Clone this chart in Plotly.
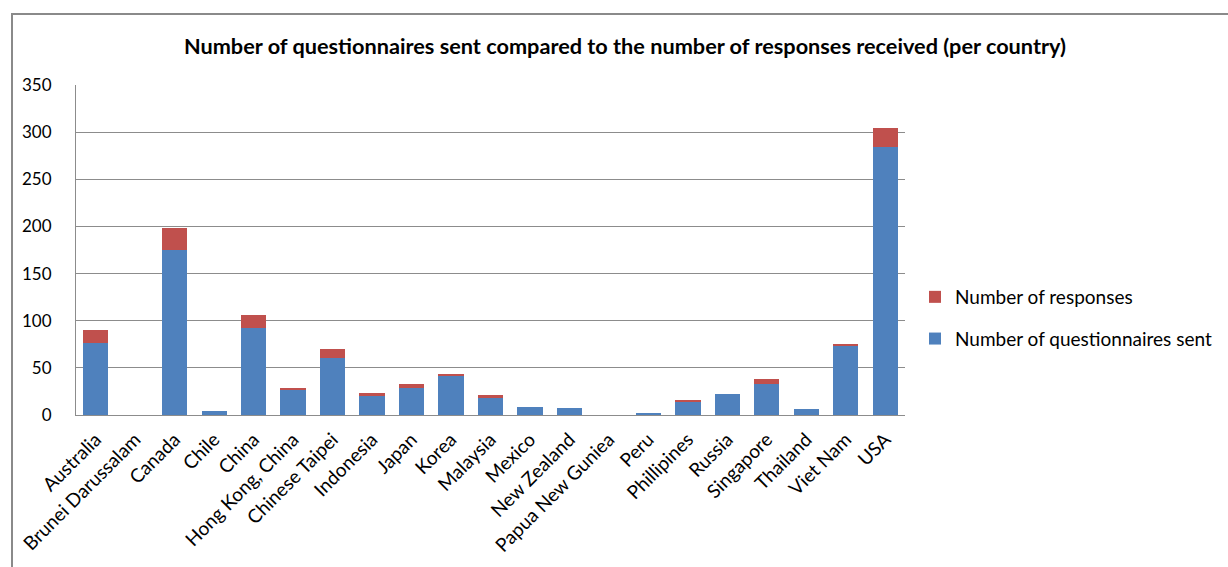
import plotly.graph_objects as go

countries = ["Australia", "Brunei Darussalam", "Canada", "Chile", "China",
             "Hong Kong, China", "Chinese Taipei", "Indonesia", "Japan", "Korea",
             "Malaysia", "Mexico", "New Zealand", "Papua New Guniea", "Peru",
             "Phillipines", "Russia", "Singapore", "Thailand", "Viet Nam", "USA"]
questionnaires_sent = [76, 0, 175, 4, 92, 27, 60, 21, 29, 42, 19, 9, 7, 0, 2,
                       14, 22, 33, 6, 74, 284]
responses = [14, 0, 23, 0, 14, 1, 10, 2, 4, 2, 2, 0, 0, 0, 0,
             1, 0, 5, 0, 1, 20]
y_ticks = [0, 50, 100, 150, 200, 250, 300, 350]

BLUE = "#4F81BD"
RED = "#C0504D"
GRID = "#8C8C8C"
FONT = "Lato"

fig = go.Figure()
fig.add_trace(go.Bar(x=countries, y=questionnaires_sent, name="Number of questionnaires sent",
                     marker=dict(color=BLUE, line=dict(width=0)),
                     legendgroup="sent", legendrank=2))
fig.add_trace(go.Bar(x=countries, y=responses, name="Number of responses",
                     marker=dict(color=RED, line=dict(width=0)),
                     legendgroup="resp", legendrank=1))

L, R, T, B = 76, 905, 85, 415
W, H = 1228, 567


def px_to_paper_x(px):
    return (px - L) / (R - L)


def px_to_paper_y(py):
    return (B - py) / (B - T)


fig.update_layout(
    width=W, height=H,
    margin=dict(l=L, r=W - R, t=T, b=H - B, pad=0, autoexpand=False),
    barmode="stack",
    bargap=0.36,
    plot_bgcolor="white",
    paper_bgcolor="white",
    font=dict(family=FONT, color="#000000", size=16),
    title=dict(text="<b>Number of questionnaires sent compared to the number of responses received (per country)</b>",
               x=625 / W, xanchor="center", xref="container",
               y=1 - 46 / H, yanchor="middle", yref="container",
               font=dict(family=FONT, size=21.7, color="#000000")),
    xaxis=dict(tickangle=-45, tickfont=dict(size=19, color="#000000"),
               showline=True, linecolor=GRID, linewidth=1, showgrid=False,
               ticks="", ticklabelstandoff=5, fixedrange=True, automargin=False),
    yaxis=dict(range=[0, 350], tickvals=y_ticks, tickfont=dict(size=17, color="#000000"),
               showgrid=True, gridcolor=GRID, gridwidth=1,
               showline=True, linecolor=GRID, linewidth=1,
               ticks="", ticklabelstandoff=20, zeroline=False, automargin=False),
    legend=dict(x=px_to_paper_x(915), xanchor="left",
                y=px_to_paper_y(318), yanchor="middle",
                traceorder="grouped", tracegroupgap=14,
                font=dict(size=19, color="#000000"), bgcolor="rgba(0,0,0,0)"),
    shapes=[dict(type="rect", xref="paper", yref="paper",
                 x0=px_to_paper_x(12), x1=px_to_paper_x(1240),
                 y0=px_to_paper_y(580), y1=px_to_paper_y(14),
                 line=dict(color="#8A8A8A", width=2), layer="below")],
)

fig.write_html("out.html")
